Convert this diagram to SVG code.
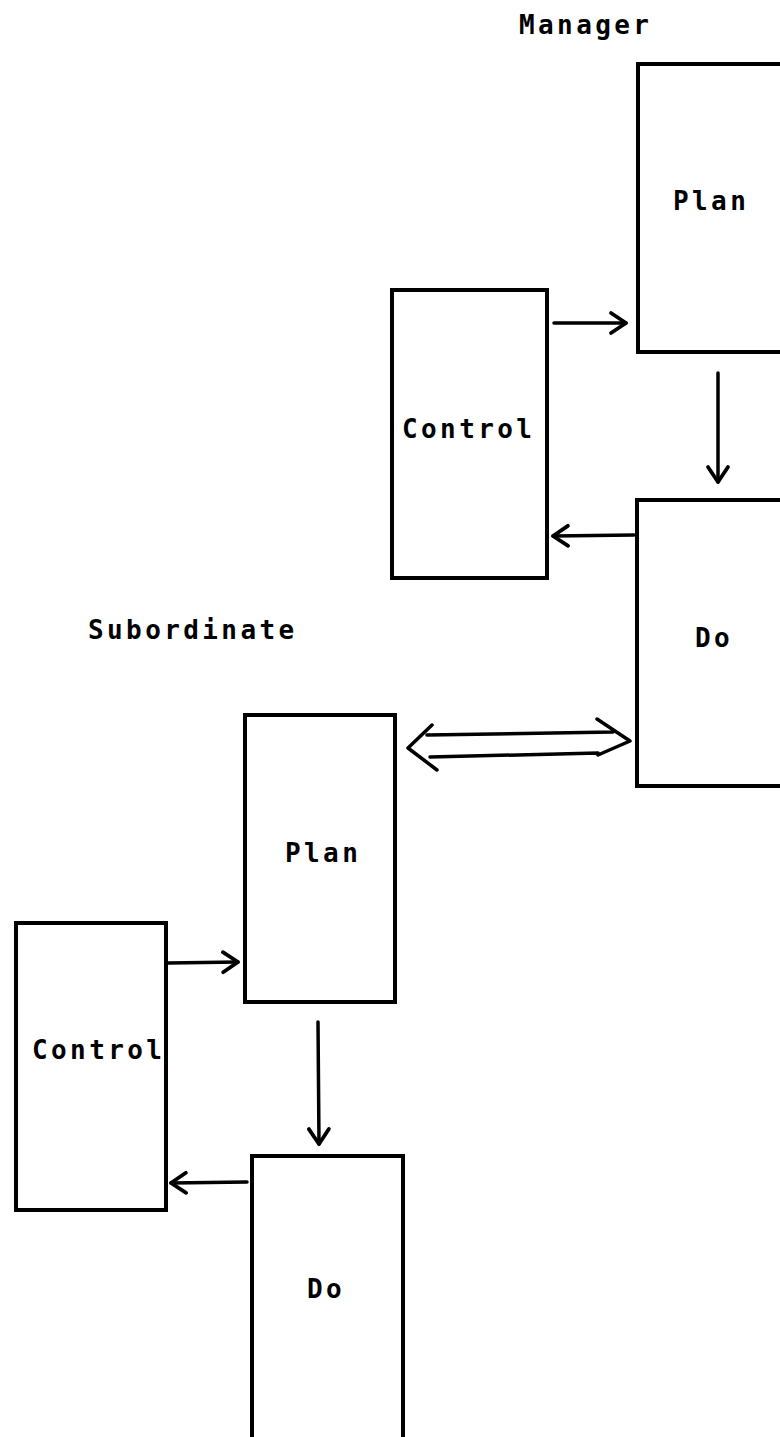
<svg xmlns="http://www.w3.org/2000/svg" width="780" height="1437" viewBox="0 0 780 1437">
<style>
.box{fill:none;stroke:#000;stroke-width:4}
.lbl{font-family:"DejaVu Sans Mono","Liberation Mono",monospace;font-size:26px;font-weight:bold;letter-spacing:3.4px;fill:#000}
.con{fill:none;stroke:#000;stroke-width:3.5;stroke-linecap:round;stroke-linejoin:round}
</style>
<defs>
<marker id="arr" markerUnits="userSpaceOnUse" markerWidth="22" markerHeight="26" viewBox="-18 -13 22 26" refX="0" refY="0" orient="auto">
<path d="M-15,-10 L0,0 L-15,10" fill="none" stroke="#000" stroke-width="3.8" stroke-linecap="round" stroke-linejoin="round"/>
</marker>
</defs>
<rect width="780" height="1437" fill="#fff"/>
<text class="lbl" x="519" y="34">Manager</text>
<text class="lbl" x="88" y="639">Subordinate</text>
<g id="mgr-plan"><rect class="box" x="638" y="64" width="150" height="288"/><text class="lbl" x="673" y="210">Plan</text></g>
<g id="mgr-control"><rect class="box" x="392" y="290" width="155" height="288"/><text class="lbl" x="402" y="438">Control</text></g>
<g id="mgr-do"><rect class="box" x="637" y="500" width="150" height="286"/><text class="lbl" x="695" y="647">Do</text></g>
<g id="sub-plan"><rect class="box" x="245" y="715" width="150" height="287"/><text class="lbl" x="285" y="862">Plan</text></g>
<g id="sub-control"><rect class="box" x="16" y="923" width="150" height="287"/><text class="lbl" x="32" y="1059">Control</text></g>
<g id="sub-do"><rect class="box" x="252" y="1156" width="151" height="300"/><text class="lbl" x="307" y="1298">Do</text></g>
<g id="connectors">
<line class="con" x1="554" y1="323" x2="626" y2="323" marker-end="url(#arr)"/>
<line class="con" x1="718" y1="373" x2="718" y2="482" marker-end="url(#arr)"/>
<line class="con" x1="634" y1="535" x2="553" y2="536" marker-end="url(#arr)"/>
<path class="con" d="M432,725 L408,748 L437,770 M427,735 L613,732 M597,719 L630,741 L598,755 M430,757 L598,753"/>
<line class="con" x1="168" y1="963" x2="238" y2="962" marker-end="url(#arr)"/>
<line class="con" x1="318" y1="1022" x2="319" y2="1144" marker-end="url(#arr)"/>
<line class="con" x1="247" y1="1182" x2="171" y2="1183" marker-end="url(#arr)"/>
</g>
</svg>
